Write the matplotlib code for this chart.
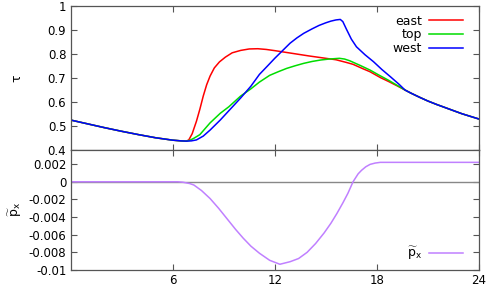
import matplotlib
matplotlib.use('Agg')
import matplotlib.pyplot as plt

plt.rcParams['font.family'] = ['DejaVu Sans']
plt.rcParams['font.size'] = 8.5
plt.rcParams['axes.unicode_minus'] = False
plt.rcParams['mathtext.fontset'] = 'dejavusans'

# -------------------------- 数据 --------------------------
# 共同部分 (左侧与右侧)
x_left = [0, 1, 2, 3, 4, 5, 6, 6.5]
y_left = [0.525, 0.509, 0.493, 0.478, 0.464, 0.451, 0.441, 0.438]
x_right = [19.65, 20, 20.5, 21, 21.5, 22, 22.5, 23, 23.5, 24]
y_right = [0.65, 0.637, 0.62, 0.604, 0.59, 0.577, 0.564, 0.551, 0.54, 0.529]

x_east = [6.8, 6.95, 7.15, 7.4, 7.6, 7.8, 8.0, 8.2, 8.45, 8.75, 9.1, 9.5, 10.0, 10.5,
          11.0, 11.5, 12.0, 13.0, 14.0, 15.0, 15.6, 16.2, 16.6, 17.2, 17.6, 18.2, 18.7, 19.2]
y_east = [0.437, 0.442, 0.468, 0.52, 0.57, 0.625, 0.672, 0.708, 0.742, 0.767, 0.787, 0.805,
          0.815, 0.821, 0.822, 0.819, 0.814, 0.803, 0.792, 0.782, 0.776, 0.765, 0.757,
          0.738, 0.726, 0.702, 0.685, 0.667]

x_top = [6.8, 7.0, 7.25, 7.6, 8.2, 8.8, 9.3, 10.0, 10.6, 11.1, 11.7, 12.2, 12.7, 13.2,
         13.7, 14.2, 14.7, 15.2, 15.8, 16.1, 16.4, 17.0, 17.6, 18.1, 18.7, 19.2]
y_top = [0.437, 0.44, 0.449, 0.464, 0.513, 0.553, 0.58, 0.625, 0.655, 0.683, 0.711, 0.726,
         0.74, 0.751, 0.761, 0.769, 0.775, 0.779, 0.782, 0.779, 0.772, 0.753, 0.733, 0.713,
         0.69, 0.669]

x_west = [6.8, 7.1, 7.4, 7.8, 8.2, 8.8, 9.4, 10.0, 10.6, 11.1, 11.6, 12.0, 12.5, 12.9,
          13.3, 13.7, 14.2, 14.6, 15.0, 15.3, 15.6, 15.85, 16.0, 16.2, 16.5, 16.8, 17.3,
          17.8, 18.3, 18.8, 19.3]
y_west = [0.437, 0.438, 0.442, 0.458, 0.483, 0.525, 0.571, 0.617, 0.666, 0.715, 0.752,
          0.782, 0.817, 0.845, 0.867, 0.886, 0.905, 0.919, 0.93, 0.937, 0.942, 0.944, 0.935,
          0.905, 0.862, 0.83, 0.797, 0.768, 0.735, 0.705, 0.674]

x_px = [0, 2, 4, 6, 6.3, 6.6, 7.0, 7.25, 7.7, 8.2, 8.7, 9.2, 9.7, 10.15, 10.6, 11.1, 11.7,
        12.3, 12.9, 13.4, 13.9, 14.4, 14.9, 15.3, 15.65, 16.0, 16.3, 16.6, 16.9, 17.1,
        17.35, 17.6, 17.9, 18.2, 19, 20, 22, 24]
y_px = [0, 0, 0, 0, 0, -0.00005, -0.0002, -0.00037, -0.001, -0.0019, -0.003, -0.0042,
        -0.0054, -0.0064, -0.0073, -0.0081, -0.0089, -0.00935, -0.00906, -0.0087, -0.008,
        -0.0070, -0.0058, -0.0047, -0.0036, -0.0024, -0.0013, 0.0, 0.0009, 0.0013, 0.0017,
        0.00197, 0.00212, 0.0022, 0.0022, 0.0022, 0.0022, 0.0022]

top_yticks = [0.4, 0.5, 0.6, 0.7, 0.8, 0.9, 1.0]
top_ylabels = ['0.4', '0.5', '0.6', '0.7', '0.8', '0.9', '1']
bot_yticks = [-0.01, -0.008, -0.006, -0.004, -0.002, 0, 0.002]
bot_ylabels = ['-0.01', '-0.008', '-0.006', '-0.004', '-0.002', '0', '0.002']
xticks = [6, 12, 18, 24]

# -------------------------- 画布 --------------------------
fig = plt.figure(figsize=(5, 3), dpi=100)
ax1 = fig.add_axes([0.141, 0.5, 0.817, 0.48])
ax2 = fig.add_axes([0.141, 0.1, 0.817, 0.4], sharex=ax1)

spine_c = '#555555'
px_label = r'$\widetilde{\mathrm{p}}_\mathrm{x}$'

ax1.plot(x_left + x_east + x_right, y_left + y_east + y_right, color='#ff0000', lw=1.1, label='east')
ax1.plot(x_left + x_top + x_right, y_left + y_top + y_right, color='#00dd00', lw=1.1, label='top')
ax1.plot(x_left + x_west + x_right, y_left + y_west + y_right, color='#0000ff', lw=1.1, label='west')

ax1.set_xlim(0, 24)
ax1.set_ylim(0.4, 1.0)
ax1.set_yticks(top_yticks)
ax1.set_yticklabels(top_ylabels)
ax1.set_xticks(xticks)
ax1.tick_params(axis='x', labelbottom=False)
ax1.set_ylabel('τ', fontsize=9)
ax1.yaxis.set_label_coords(-0.115, 0.5)
ax1.legend(loc='upper right', bbox_to_anchor=(0.982, 1.0), frameon=False, markerfirst=False,
           handlelength=2.7, handletextpad=0.6, labelspacing=0.05, borderaxespad=0.3, fontsize=9)

# -------------------------- 下图 --------------------------
ax2.axhline(0, color='#888888', lw=1.0)
ax2.plot(x_px, y_px, color='#c080ff', lw=1.1, label=px_label)
ax2.set_ylim(-0.01, 0.0036)
ax2.set_yticks(bot_yticks)
ax2.set_yticklabels(bot_ylabels)
ax2.set_xticks(xticks)
ax2.set_xticklabels([str(t) for t in xticks])
ax2.set_ylabel(px_label, fontsize=9)
ax2.yaxis.set_label_coords(-0.115, 0.5)
ax2.legend(loc='lower right', bbox_to_anchor=(0.982, -0.01), frameon=False, markerfirst=False,
           handlelength=2.7, handletextpad=0.6, borderaxespad=0.3, fontsize=9)

for ax in (ax1, ax2):
    ax.tick_params(direction='in', top=True, right=True, length=4, color=spine_c, pad=3)
    for s in ax.spines.values():
        s.set_color(spine_c)
        s.set_linewidth(0.9)

fig.savefig('out.png', dpi=100)
